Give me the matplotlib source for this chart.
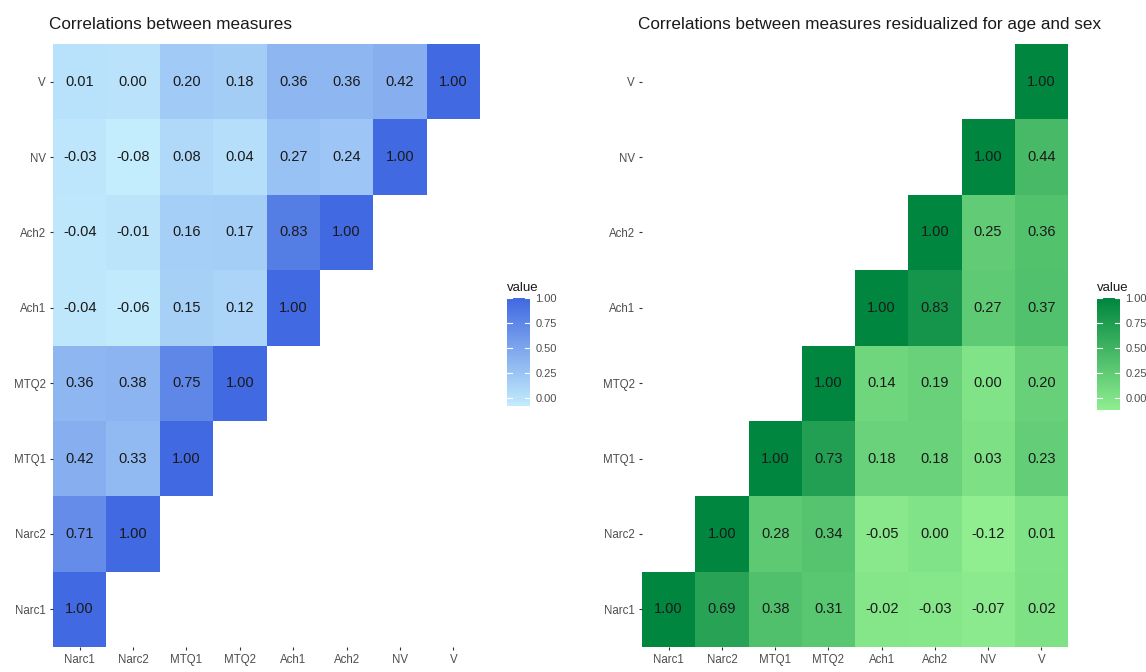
import matplotlib
matplotlib.use("Agg")
import matplotlib.pyplot as plt
from matplotlib.colors import LinearSegmentedColormap, Normalize
import numpy as np

plt.rcParams['font.family'] = ['Liberation Sans', 'DejaVu Sans']

measures = ["Narc1", "Narc2", "MTQ1", "MTQ2", "Ach1", "Ach2", "NV", "V"]

# raw correlations, lower triangle rows (row i holds columns 0..i)
raw_rows = [
    [1.00],
    [0.71, 1.00],
    [0.42, 0.33, 1.00],
    [0.36, 0.38, 0.75, 1.00],
    [-0.04, -0.06, 0.15, 0.12, 1.00],
    [-0.04, -0.01, 0.16, 0.17, 0.83, 1.00],
    [-0.03, -0.08, 0.08, 0.04, 0.27, 0.24, 1.00],
    [0.01, 0.00, 0.20, 0.18, 0.36, 0.36, 0.42, 1.00],
]

# residualized correlations, upper triangle rows (row i holds columns i..7)
resid_rows = [
    [1.00, 0.69, 0.38, 0.31, -0.02, -0.03, -0.07, 0.02],
    [1.00, 0.28, 0.34, -0.05, 0.00, -0.12, 0.01],
    [1.00, 0.73, 0.18, 0.18, 0.03, 0.23],
    [1.00, 0.14, 0.19, 0.00, 0.20],
    [1.00, 0.83, 0.27, 0.37],
    [1.00, 0.25, 0.36],
    [1.00, 0.44],
    [1.00],
]

legend_breaks = [0.00, 0.25, 0.50, 0.75, 1.00]

W, H = 1146, 672


def to_matrix(rows, upper):
    n = len(measures)
    m = np.full((n, n), np.nan)
    for i, vals in enumerate(rows):
        start = i if upper else 0
        for k, v in enumerate(vals):
            m[i, start + k] = v
    return m


def px_axes(fig, x0, y0, x1, y1):
    return fig.add_axes([x0 / W, 1 - y1 / H, (x1 - x0) / W, (y1 - y0) / H])


def draw_panel(fig, box, mat, cmap, title):
    ax = px_axes(fig, *box)
    vmin = np.nanmin(mat)
    norm = Normalize(vmin=vmin, vmax=1.0)
    n = len(measures)
    ax.pcolormesh(np.arange(n + 1) - 0.5, np.arange(n + 1) - 0.5,
                  np.ma.masked_invalid(mat), cmap=cmap, norm=norm)
    for i in range(n):
        for j in range(n):
            if not np.isnan(mat[i, j]):
                ax.text(j, i, "%.2f" % mat[i, j], ha="center", va="center",
                        fontsize=10.5, color="#1a1a1a")
    ax.set_xlim(-0.5, n - 0.5)
    ax.set_ylim(-0.5, n - 0.5)
    ax.set_xticks(range(n))
    ax.set_yticks(range(n))
    ax.set_xticklabels(measures)
    ax.set_yticklabels(measures)
    ax.tick_params(length=2.5, width=0.8, color="#333333", labelcolor="#4d4d4d",
                   labelsize=8.3, pad=2.5)
    for s in ax.spines.values():
        s.set_visible(False)
    ax.set_title(title, loc="left", fontsize=12.3, color="#1a1a1a", pad=11,
                 x=-0.01)
    return vmin, norm


def draw_legend(fig, x0, x1, top, vmin, cmap, norm):
    per_unit = 100.0
    bottom = top + (1.0 - vmin) * per_unit
    cax = px_axes(fig, x0, top, x1, bottom)
    grad = np.linspace(vmin, 1.0, 200).reshape(-1, 1)
    cax.imshow(grad, aspect="auto", origin="lower", cmap=cmap, norm=norm,
               extent=[0, 1, vmin, 1.0])
    cax.set_xlim(0, 1)
    cax.set_ylim(vmin, 1.0)
    for b in legend_breaks:
        cax.plot([0, 0.2], [b, b], color="white", lw=0.8)
        cax.plot([0.8, 1], [b, b], color="white", lw=0.8)
    cax.set_xticks([])
    cax.yaxis.tick_right()
    cax.set_yticks(legend_breaks)
    cax.set_yticklabels(["%.2f" % b for b in legend_breaks])
    cax.tick_params(length=0, labelsize=8, labelcolor="#4d4d4d", pad=4)
    for s in cax.spines.values():
        s.set_visible(False)
    fig.text(x0 / W, 1 - (top - 4) / H, "value", fontsize=9.5, color="#1a1a1a",
             ha="left", va="bottom")


blue_cmap = LinearSegmentedColormap.from_list("blues", ["#c3ecfd", "#4169e1"])
green_cmap = LinearSegmentedColormap.from_list("greens", ["#90ee90", "#00863f"])

fig = plt.figure(figsize=(W / 100, H / 100), dpi=100)

raw = to_matrix(raw_rows, upper=False)
resid = to_matrix(resid_rows, upper=True)

vmin_l, norm_l = draw_panel(fig, (53, 44, 480, 647), raw, blue_cmap,
                            "Correlations between measures")
draw_legend(fig, 507, 530, 298, vmin_l, blue_cmap, norm_l)

vmin_r, norm_r = draw_panel(fig, (642, 44, 1068, 647), resid, green_cmap,
                            "Correlations between measures residualized for age and sex")
draw_legend(fig, 1097, 1120, 298, vmin_r, green_cmap, norm_r)

fig.savefig("out.png", dpi=100, facecolor="white")
